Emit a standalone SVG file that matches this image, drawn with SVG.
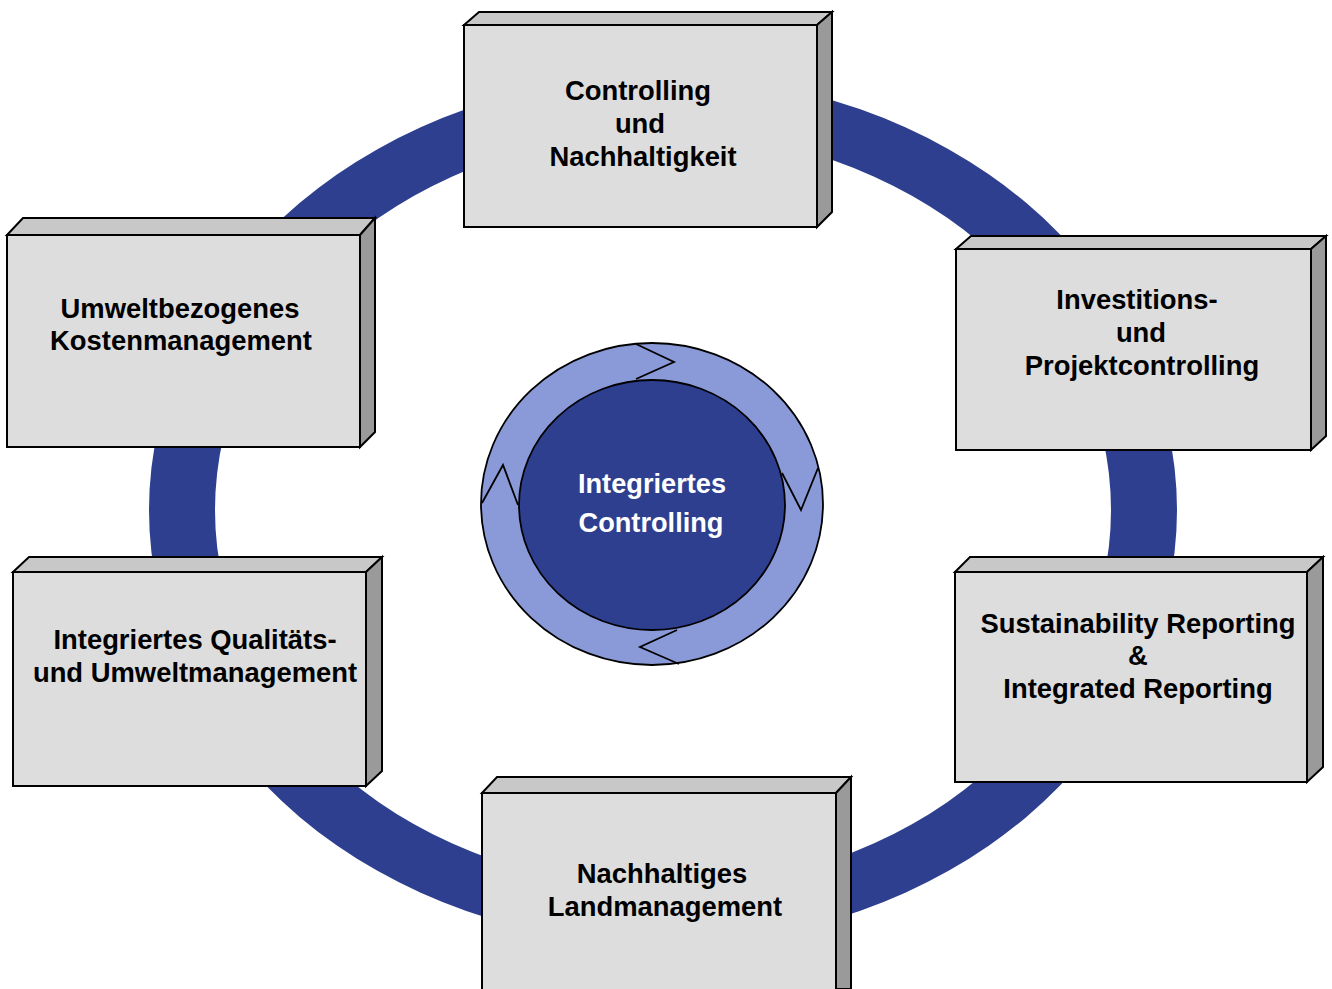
<svg xmlns="http://www.w3.org/2000/svg" width="1332" height="989" viewBox="0 0 1332 989">
<style>
.front{fill:#DDDDDD;stroke:#000;stroke-width:2;stroke-linejoin:miter}
.top{fill:#C8C8C8;stroke:#000;stroke-width:2}
.side{fill:#9A9A9A;stroke:#000;stroke-width:2}
.lbl{font-family:"Liberation Sans",Arial,sans-serif;font-weight:bold;font-size:27.4px;fill:#000;text-anchor:middle}
.clbl{font-family:"Liberation Sans",Arial,sans-serif;font-weight:bold;font-size:27.2px;fill:#FFFFFF;text-anchor:middle}
</style>
<rect width="1332" height="989" fill="#FFFFFF"/>
<g id="connectors">
<path fill="#2E3F8F" fill-rule="evenodd" d="M149,510 A514,434 0 1,0 1177,510 A514,434 0 1,0 149,510 Z M215,510 A448,378 0 1,0 1111,510 A448,378 0 1,0 215,510 Z"/>
</g>
<g id="center">
<ellipse cx="652" cy="504" rx="171" ry="161" fill="#8A9AD8" stroke="#000" stroke-width="1.8"/>
<ellipse cx="652" cy="505" rx="133" ry="125" fill="#2E3F8F" stroke="#000" stroke-width="1.8"/>
<polyline points="636,344 674,362 636,379" fill="none" stroke="#000" stroke-width="1.8"/>
<polyline points="482,503 503,465 518,505" fill="none" stroke="#000" stroke-width="1.8"/>
<polyline points="782,473 801,510 818,468" fill="none" stroke="#000" stroke-width="1.8"/>
<polyline points="677,630 640,647 679,664" fill="none" stroke="#000" stroke-width="1.8"/>
<text class="clbl" x="652" y="493">Integriertes</text>
<text class="clbl" x="651" y="532">Controlling</text>
</g>
<g id="box-controlling">
<polygon class="top" points="464,25 479,12 832,12 817,25"/>
<polygon class="side" points="817,25 832,12 832,212 817,227"/>
<rect class="front" x="464" y="25" width="353" height="202"/>
<text class="lbl" x="638" y="100">Controlling</text>
<text class="lbl" x="640" y="133">und</text>
<text class="lbl" x="643" y="166">Nachhaltigkeit</text>
</g>
<g id="box-investition">
<polygon class="top" points="956,249 971,236 1326,236 1311,249"/>
<polygon class="side" points="1311,249 1326,236 1326,436 1311,450"/>
<rect class="front" x="956" y="249" width="355" height="201"/>
<text class="lbl" x="1137" y="309">Investitions-</text>
<text class="lbl" x="1141" y="342">und</text>
<text class="lbl" x="1142" y="375">Projektcontrolling</text>
</g>
<g id="box-reporting">
<polygon class="top" points="955,572 970,557 1323,557 1307,572"/>
<polygon class="side" points="1307,572 1323,557 1323,767 1307,782"/>
<rect class="front" x="955" y="572" width="352" height="210"/>
<text class="lbl" x="1138" y="633">Sustainability Reporting</text>
<text class="lbl" x="1138" y="665">&amp;</text>
<text class="lbl" x="1138" y="698">Integrated Reporting</text>
</g>
<g id="box-land">
<polygon class="top" points="482,793 497,777 851,777 836,793"/>
<polygon class="side" points="836,793 851,777 851,989 836,989"/>
<rect class="front" x="482" y="793" width="354" height="200"/>
<text class="lbl" x="662" y="883">Nachhaltiges</text>
<text class="lbl" x="665" y="916">Landmanagement</text>
</g>
<g id="box-qualitaet">
<polygon class="top" points="13,572 29,557 382,557 366,572"/>
<polygon class="side" points="366,572 382,557 382,771 366,786"/>
<rect class="front" x="13" y="572" width="353" height="214"/>
<text class="lbl" x="195" y="649">Integriertes Qualitäts-</text>
<text class="lbl" x="195" y="682">und Umweltmanagement</text>
</g>
<g id="box-kosten">
<polygon class="top" points="7,235 23,218 375,218 360,235"/>
<polygon class="side" points="360,235 375,218 375,432 360,447"/>
<rect class="front" x="7" y="235" width="353" height="212"/>
<text class="lbl" x="180" y="318">Umweltbezogenes</text>
<text class="lbl" x="181" y="350">Kostenmanagement</text>
</g>
</svg>
